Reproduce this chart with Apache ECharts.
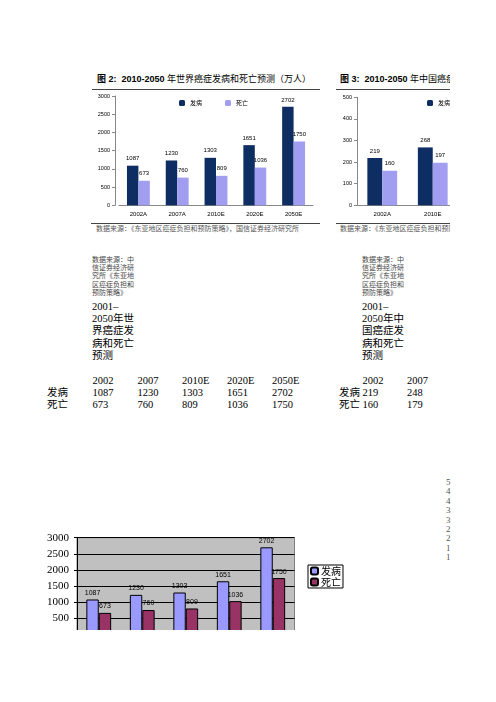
<!DOCTYPE html>
<html>
<head>
<meta charset="utf-8">
<script src="https://cdn.jsdelivr.net/npm/echarts@6/dist/echarts.min.js"></script>
<style>
  body { margin: 0; background: #fff; width: 496px; height: 702px; position: relative; overflow: hidden;
         font-family: "Liberation Serif", "Noto Sans CJK SC", serif; color: #000; }
  .abs { position: absolute; white-space: nowrap; }
  .clip { position: absolute; overflow: hidden; }
  .title { font-size: 9px; line-height: 12px; font-family: "Liberation Sans", "Noto Sans CJK SC", sans-serif; }
  .title b { font-weight: bold; }
  .rule { position: absolute; height: 0; border-top: 1px solid #444; }
  .src { font-size: 7px; line-height: 9px; color: #555; font-family: "Noto Sans CJK SC", sans-serif; }
  .note { font-size: 7px; line-height: 8.2px; color: #444; }
  .big { font-size: 10.5px; line-height: 12.2px; }
  .row { font-size: 10.5px; line-height: 12.2px; height: 12.2px; position: relative; }
  .row span { position: absolute; top: 0; }
</style>
</head>
<body>

<!-- top left panel -->
<div class="abs title" style="left:97px;top:73px;"><b>图 2:&nbsp; 2010-2050</b> 年世界癌症发病和死亡预测（万人）</div>
<div class="rule" style="left:92px;top:89px;width:228px;"></div>
<div id="graph1" class="abs" style="left:80px;top:90px;width:250px;height:132px;"></div>
<div class="rule" style="left:91px;top:223px;width:229px;"></div>
<div class="abs src" style="left:96px;top:224px;">数据来源：《东亚地区癌症负担和预防策略》，国信证券经济研究所</div>

<!-- top right panel, cut at the page edge -->
<div class="clip" style="left:330px;top:60px;width:120px;height:175px;">
  <div class="abs title" style="left:10px;top:13px;"><b>图 3:&nbsp; 2010-2050</b> 年中国癌症</div>
  <div class="rule" style="left:6px;top:29px;width:120px;"></div>
  <div id="graph2" class="abs" style="left:0;top:30px;width:200px;height:132px;"></div>
  <div class="rule" style="left:6px;top:163px;width:120px;"></div>
  <div class="abs src" style="left:10px;top:164px;">数据来源：《东亚地区癌症负担和预防</div>
</div>

<!-- notes and tables -->
<div class="abs note" style="left:92px;top:256px;">数据来源：中<br>信证券经济研<br>究所《东亚地<br>区癌症负担和<br>预防策略》</div>
<div class="abs big" style="left:92px;top:301px;">2001–<br>2050年世<br>界癌症发<br>病和死亡<br>预测</div>
<div class="abs" id="table1" style="left:0;top:374.6px;width:330px;"></div>

<div class="abs note" style="left:362px;top:256px;">数据来源：中<br>信证券经济研<br>究所《东亚地<br>区癌症负担和<br>预防策略》</div>
<div class="abs big" style="left:362px;top:301px;">2001–<br>2050年中<br>国癌症发<br>病和死亡<br>预测</div>
<div class="abs" id="table2" style="left:0;top:374.6px;width:496px;"></div>

<div class="abs" id="digits" style="left:446px;top:478px;font-size:9px;line-height:9.4px;color:#555;"></div>

<!-- bottom chart, cut off below -->
<div class="clip" style="left:0;top:520px;width:496px;height:110px;">
  <div id="graph3" class="abs" style="left:0;top:0;width:496px;height:140px;"></div>
</div>

<script>
var worldCats = ['2002A', '2007A', '2010E', '2020E', '2050E'];
var worldIncidence = [1087, 1230, 1303, 1651, 2702];
var worldDeaths = [673, 760, 809, 1036, 1750];

var chinaCats = ['2002A', '2010E'];
var chinaIncidence = [219, 268];
var chinaDeaths = [160, 197];

var tableYears = ['2002', '2007', '2010E', '2020E', '2050E'];
var chinaTableYears = ['2002', '2007'];
var chinaTableIncidence = [219, 248];
var chinaTableDeaths = [160, 179];

var sideDigits = ['5', '4', '4', '3', '3', '2', '2', '1', '1'];

function buildTable(id, labelX, colX, years, inc, dea) {
    var el = document.getElementById(id);
    var rows = [['', years], ['发病', inc], ['死亡', dea]];
    var html = '';
    rows.forEach(function (r) {
        html += '<div class="row"><span style="left:' + labelX + 'px">' + r[0] + '</span>';
        r[1].forEach(function (v, i) {
            html += '<span style="left:' + colX[i] + 'px">' + v + '</span>';
        });
        html += '</div>';
    });
    el.innerHTML = html;
}

buildTable('table1', 47, [92.5, 137.5, 182, 227, 272], tableYears, worldIncidence, worldDeaths);
buildTable('table2', 339, [362.5, 407], chinaTableYears, chinaTableIncidence, chinaTableDeaths);
document.getElementById('digits').innerHTML = sideDigits.join('<br>');

var sans = 'Liberation Sans';
var plain = function (v) { return String(v); };

function smallBars(id, cats, inc, dea, max, interval, grid, legendLeft, yOffset) {
    var chart = echarts.init(document.getElementById(id));
    var label = { show: true, position: 'top', fontSize: 6, color: '#000', fontFamily: sans, distance: 4 };
    chart.setOption({
        animation: false,
        legend: {
            data: ['发病', '死亡'],
            left: legendLeft, top: 5,
            itemWidth: 6, itemHeight: 6, itemGap: 23,
            textStyle: { fontSize: 6, color: '#000', fontFamily: 'Noto Sans CJK SC' }
        },
        grid: grid,
        xAxis: {
            type: 'category',
            data: cats,
            axisLine: { lineStyle: { color: '#888', width: 1 } },
            axisTick: { show: false },
            axisLabel: { fontSize: 6, color: '#000', fontFamily: sans, margin: 6 }
        },
        yAxis: {
            type: 'value',
            min: 0, max: max, interval: interval,
            offset: yOffset,
            axisLine: { show: true, lineStyle: { color: '#888', width: 1 } },
            axisTick: { show: true, length: 3, lineStyle: { color: '#888' } },
            splitLine: { show: false },
            axisLabel: { fontSize: 5.5, color: '#000', fontFamily: sans, margin: 5, formatter: plain }
        },
        series: [
            { name: '发病', type: 'bar', data: inc, barGap: '0%', barCategoryGap: '41%',
              itemStyle: { color: '#0E2D63' }, label: label },
            { name: '死亡', type: 'bar', data: dea,
              itemStyle: { color: '#A19EF2' }, label: label }
        ]
    });
}

smallBars('graph1', worldCats, worldIncidence, worldDeaths, 3000, 500,
    { left: 39, top: 6, width: 194, height: 109.3 }, 94, 4);
smallBars('graph2', chinaCats, chinaIncidence, chinaDeaths, 500, 100,
    { left: 27, top: 7.3, width: 101, height: 108 }, 92, 0);

var graph3 = echarts.init(document.getElementById('graph3'));
var label3 = { show: true, position: 'top', fontSize: 7, color: '#000', fontFamily: sans, distance: 3 };
graph3.setOption({
    animation: false,
    legend: {
        data: ['发病', '死亡'],
        orient: 'vertical',
        left: 308, top: 45,
        itemWidth: 7, itemHeight: 7, itemGap: 1,
        padding: [1, 2],
        borderColor: '#000', borderWidth: 1, backgroundColor: '#fff',
        textStyle: { fontSize: 10, color: '#000', fontFamily: 'Noto Sans CJK SC', padding: [0, 0, 0, -2] }
    },
    grid: {
        show: true, backgroundColor: '#C0C0C0', borderColor: '#808080', borderWidth: 1,
        left: 77, top: 17.7, width: 217.5, height: 96.9
    },
    xAxis: {
        type: 'category',
        data: tableYears,
        axisLine: { lineStyle: { color: '#000' } },
        axisTick: { show: false },
        axisLabel: { show: false }
    },
    yAxis: {
        type: 'value',
        min: 0, max: 3000, interval: 500,
        axisLine: { show: true, lineStyle: { color: '#000', width: 1 } },
        axisTick: { show: true, length: 3, lineStyle: { color: '#000' } },
        splitLine: { show: true, lineStyle: { color: '#000', width: 1 } },
        axisLabel: { fontSize: 11, color: '#000', fontFamily: 'Liberation Serif', margin: 8, formatter: plain }
    },
    series: [
        { name: '发病', type: 'bar', data: worldIncidence, barGap: '0%', barCategoryGap: '43%',
          itemStyle: { color: '#9999FF', borderColor: '#000', borderWidth: 1 }, label: label3 },
        { name: '死亡', type: 'bar', data: worldDeaths,
          itemStyle: { color: '#993366', borderColor: '#000', borderWidth: 1 }, label: label3 }
    ]
});
</script>
</body>
</html>
